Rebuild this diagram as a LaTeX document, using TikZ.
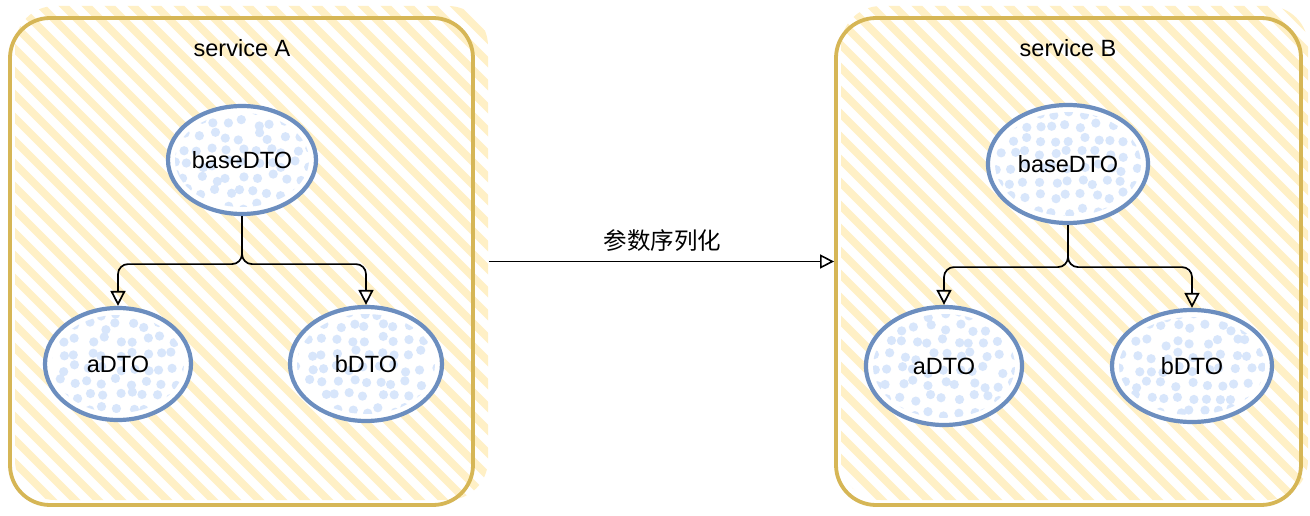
\documentclass[tikz,border=0pt]{standalone}
\usepackage{fontspec}
\setmainfont{Liberation Sans}
\newfontfamily\cjk{Noto Sans CJK SC}
\usetikzlibrary{shapes.geometric,arrows.meta}
\definecolor{hatchc}{HTML}{FFF0C6}
\definecolor{boxc}{HTML}{D6B656}
\definecolor{ellc}{HTML}{6C8EBF}
\definecolor{dotc}{HTML}{D8E6FB}
\tikzset{
  box/.style={draw=boxc, line width=3.8pt, rounded corners=40pt, inner sep=0pt},
  dto/.style={ellipse, draw=ellc, line width=4.2pt, inner sep=0pt, font=\fontsize{23.5}{28}\selectfont},
  title/.style={font=\fontsize{23.5}{28}\selectfont},
  hatch/.style={hatchc, line width=7.5pt},
  conn/.style={draw=black, line width=1.7pt, rounded corners=10pt, -{Triangle[open,length=15pt,width=15pt,line width=1.7pt]}},
  flow/.style={draw=black, line width=1.6pt, -{Triangle[open,length=14pt,width=14pt,line width=1.6pt]}}
}
\newcommand{\mydto}[6]{%
  \fill[white] (#2,#3) ellipse ({#4} and {#5});
  \begin{scope}
    \clip (#2,#3) ellipse ({#4-7} and {#5-7});
    \foreach \dx in {-84,-70,...,84} {
      \foreach \dy in {-66,-52,...,66} {
        \fill[dotc] ({#2+\dx+4*rand},{#3+\dy+4*rand}) circle (4.6pt);
      }
    }
  \end{scope}
  \node[dto, minimum width={2*#4}, minimum height={2*#5}] (#1) at (#2,#3) {#6};
}
\begin{document}
\begin{tikzpicture}[x=1pt, y=-1pt]
\pgfmathsetseed{7}
\useasboundingbox (0,0) rectangle (1310,516);
\fill[white] (0,0) rectangle (1310,516);
% hatching left
\begin{scope}
  \clip[rounded corners=40pt] (15,6) rectangle (488,500);
  \foreach \s in {-540,-517,...,500} {
    \draw[hatch] (\s,0) -- ++(560,560);
  }
\end{scope}
% hatching right
\begin{scope}
  \clip[rounded corners=40pt] (841,6) rectangle (1308,500);
  \foreach \s in {290,313,...,1320} {
    \draw[hatch] (\s,0) -- ++(560,560);
  }
\end{scope}
% boxes
\node[box, minimum width=463pt, minimum height=487pt] (sA) at (241.5,261.5) {};
\node[box, minimum width=465pt, minimum height=487pt] (sB) at (1068.5,261.5) {};
\node[title] (tA) at (242,48) {service A};
\node[title] (tB) at (1068,48) {service B};
% ellipses
\mydto{baseA}{242}{160}{74}{54}{baseDTO}
\mydto{aA}{118}{364}{73}{56}{aDTO}
\mydto{bA}{366}{364}{76}{57}{bDTO}
\mydto{baseB}{1068}{164}{80}{59}{baseDTO}
\mydto{aB}{944}{366}{78}{59}{aDTO}
\mydto{bB}{1192}{366}{80}{56}{bDTO}
% connectors
\draw[conn] (baseA.south) -- ++(0,48) -| (aA.north);
\draw[conn] (baseA.south) -- ++(0,48) -| (bA.north);
\draw[conn] (baseB.south) -- ++(0,42) -| (aB.north);
\draw[conn] (baseB.south) -- ++(0,42) -| (bB.north);
% serialization arrow
\draw[flow, shorten <=14pt] (sA) -- (sB) node[midway, above=6pt, xshift=8pt, font=\cjk\fontsize{23.5}{28}\selectfont] (lbl) {参数序列化};
\end{tikzpicture}
\end{document}
